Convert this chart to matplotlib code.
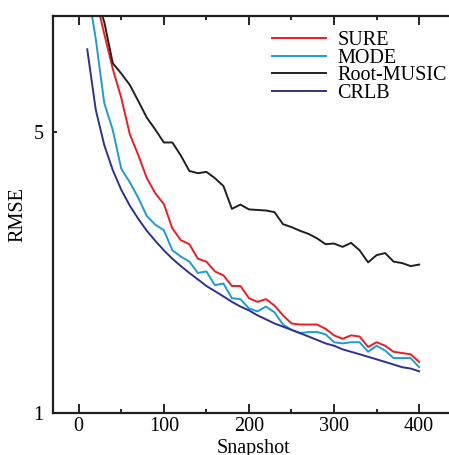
import matplotlib
matplotlib.use('Agg')
import matplotlib.pyplot as plt
import matplotlib.ticker as ticker

plt.rcParams['font.family'] = ['Liberation Serif', 'DejaVu Serif']
plt.rcParams['mathtext.fontset'] = 'stix'

# snapshots 10..400
snapshot = [10, 20, 30, 40, 50, 60, 70, 80, 90, 100,
            110, 120, 130, 140, 150, 160, 170, 180, 190, 200,
            210, 220, 230, 240, 250, 260, 270, 280, 290, 300,
            310, 320, 330, 340, 350, 360, 370, 380, 390, 400]

sure = [13.0, 10.8, 8.77, 7.18, 6.08, 4.94, 4.38, 3.84, 3.52, 3.31,
        2.88, 2.69, 2.63, 2.42, 2.38, 2.25, 2.20, 2.07, 2.07, 1.93,
        1.89, 1.92, 1.85, 1.75, 1.67, 1.66, 1.66, 1.66, 1.62, 1.56,
        1.53, 1.56, 1.55, 1.46, 1.50, 1.47, 1.42, 1.41, 1.40, 1.34]

mode = [11.5, 8.53, 5.90, 5.06, 4.05, 3.75, 3.43, 3.09, 2.94, 2.85,
        2.54, 2.45, 2.38, 2.23, 2.25, 2.08, 2.10, 1.93, 1.92, 1.82,
        1.79, 1.84, 1.78, 1.66, 1.61, 1.58, 1.59, 1.59, 1.57, 1.50,
        1.49, 1.50, 1.50, 1.42, 1.47, 1.43, 1.37, 1.37, 1.37, 1.30]

root_music = [14.0, 11.0, 9.39, 7.42, 6.99, 6.55, 5.97, 5.43, 5.07, 4.71,
              4.71, 4.37, 4.00, 3.95, 3.98, 3.84, 3.67, 3.22, 3.30, 3.21,
              3.20, 3.19, 3.16, 2.95, 2.90, 2.84, 2.79, 2.72, 2.63, 2.64,
              2.59, 2.65, 2.54, 2.37, 2.47, 2.50, 2.38, 2.36, 2.32, 2.34]

crlb = [8.03, 5.68, 4.64, 4.02, 3.59, 3.28, 3.04, 2.84, 2.68, 2.54,
        2.42, 2.32, 2.23, 2.15, 2.07, 2.01, 1.95, 1.89, 1.84, 1.80,
        1.75, 1.71, 1.67, 1.64, 1.61, 1.58, 1.55, 1.52, 1.49, 1.47,
        1.44, 1.42, 1.40, 1.38, 1.36, 1.34, 1.32, 1.30, 1.29, 1.27]

fs = 14.5
W, H = 449, 455
fig = plt.figure(figsize=(W / 100, H / 100), dpi=100)
ax = fig.add_axes([53.2 / W, (H - 413) / H, 400 / W, 397 / H])

lw = 1.4
ax.plot(snapshot, sure, color='#ED1C24', lw=lw, label='SURE')
ax.plot(snapshot, mode, color='#1B9BD7', lw=lw, label='MODE')
ax.plot(snapshot, root_music, color='#231F20', lw=lw, label='Root-MUSIC')
ax.plot(snapshot, crlb, color='#2E3192', lw=lw, label='CRLB')

ax.set_yscale('log')
ax.set_xlim(-30, 440)
ax.set_ylim(1, 9.72)
ax.set_yticks([1, 5])
ax.yaxis.set_major_formatter(ticker.FormatStrFormatter('%d'))
ax.yaxis.set_minor_locator(ticker.NullLocator())
ax.set_xticks([0, 100, 200, 300, 400])
ax.xaxis.set_minor_locator(ticker.MultipleLocator(50))

ax.tick_params(axis='x', which='major', direction='in', length=6.5, width=1.2,
               top=True, labelsize=fs, pad=3)
ax.tick_params(axis='x', which='minor', direction='in', length=3, width=1.2,
               top=True)
ax.tick_params(axis='y', which='major', direction='in', length=3, width=1.2,
               right=True, labelsize=fs, pad=7)
for sp in ax.spines.values():
    sp.set_linewidth(1.6)
    sp.set_color('#231F20')

ax.set_xlabel('Snapshot', fontsize=fs, labelpad=2)
ax.set_ylabel('RMSE', fontsize=fs, labelpad=4)

ax.legend(loc='upper left', bbox_to_anchor=(271.7 / W, (H - 31) / H),
          bbox_transform=fig.transFigure, frameon=False, fontsize=fs,
          borderpad=0, borderaxespad=0, handlelength=2.7, handletextpad=0.55,
          labelspacing=-0.08)

fig.savefig('out.png', dpi=100)
